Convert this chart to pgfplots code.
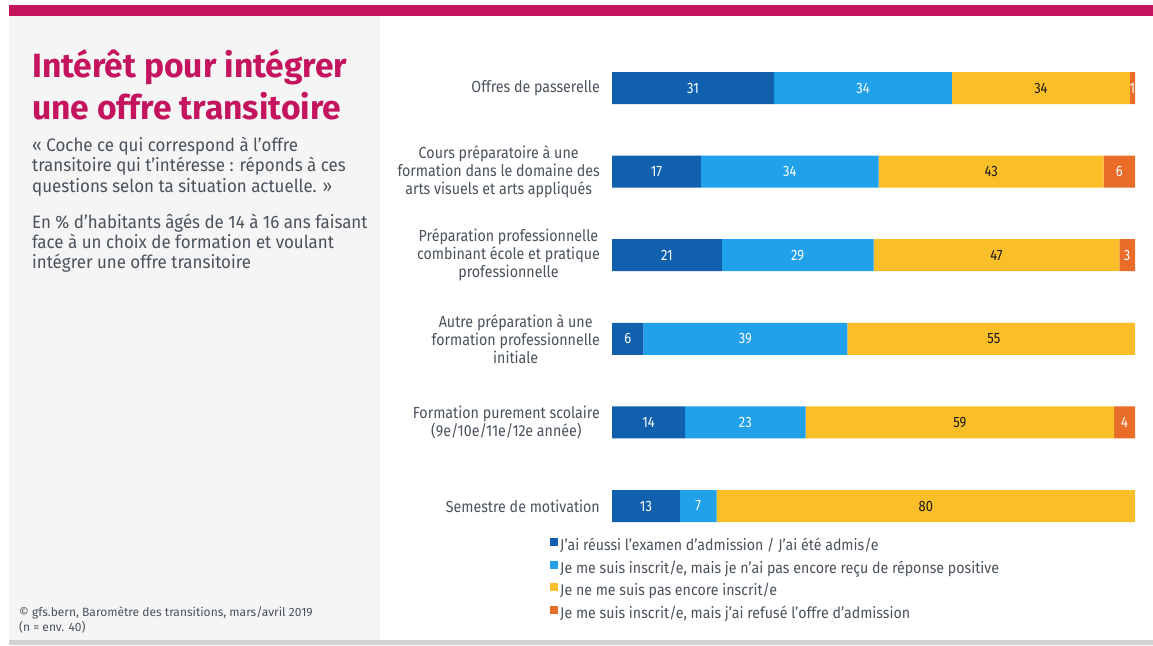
\documentclass[border=0pt]{standalone}
\usepackage{fontspec}
\setmainfont{Fira Sans}
\newfontfamily\condfont[FakeStretch=0.86]{Fira Sans}
\newfontfamily\bodyfont[FakeStretch=0.94]{Fira Sans}
\newfontfamily\catfont[FakeStretch=0.89]{Fira Sans}
\newfontfamily\legfont[FakeStretch=0.915]{Fira Sans}
\usepackage{pgfplots}
\pgfplotsset{compat=1.18}
\definecolor{dblue}{HTML}{1060AE}
\definecolor{lblue}{HTML}{21A1EA}
\definecolor{yel}{HTML}{FABE28}
\definecolor{ora}{HTML}{E96C28}
\definecolor{mag}{HTML}{C4145E}
\definecolor{txt}{HTML}{4A525C}
\definecolor{panel}{HTML}{F5F5F5}
\definecolor{strip}{HTML}{D2D3D3}
\definecolor{dark}{HTML}{1A1A1A}
\begin{document}
\begin{tikzpicture}[x=1pt,y=1pt]
\fill[white] (0,0) rectangle (1153,-645);
\fill[panel] (9,-16) rectangle (380,-640);
\fill[mag] (9,-5) rectangle (1153,-16);
\fill[strip] (9,-640) rectangle (1153,-645);
\begin{scope}[every node/.style={anchor=base west, inner sep=0pt}]
\node[text=mag, font=\fontsize{33.6}{40}\selectfont\bfseries] at (32,-77) {Intérêt pour intégrer};
\node[text=mag, font=\fontsize{33.6}{40}\selectfont\bfseries] at (32,-119) {une offre transitoire};
\node[text=txt, font=\bodyfont\fontsize{18}{20}\selectfont] at (32,-151) {« Coche ce qui correspond à l’offre};
\node[text=txt, font=\bodyfont\fontsize{18}{20}\selectfont] at (32,-171) {transitoire qui t’intéresse : réponds à ces};
\node[text=txt, font=\bodyfont\fontsize{18}{20}\selectfont] at (32,-192) {questions selon ta situation actuelle. »};
\node[text=txt, font=\bodyfont\fontsize{18}{20}\selectfont] at (32,-228) {En \% d’habitants âgés de 14 à 16 ans faisant};
\node[text=txt, font=\bodyfont\fontsize{18}{20}\selectfont] at (32,-248) {face à un choix de formation et voulant};
\node[text=txt, font=\bodyfont\fontsize{18}{20}\selectfont] at (32,-268) {intégrer une offre transitoire};
\node[text=txt, font=\fontsize{12}{14}\selectfont] at (19,-616) {© gfs.bern, Baromètre des transitions, mars/avril 2019};
\node[text=txt, font=\fontsize{12}{14}\selectfont] at (19,-631) {(n = env. 40)};
\end{scope}
\begin{axis}[
  at={(612pt,-547.8pt)}, anchor=south west,
  scale only axis, width=523pt, height=501.6pt,
  xmin=0, xmax=100, ymin=-0.5, ymax=5.5,
  xbar stacked, bar width=32pt,
  axis line style={draw=none}, tick style={draw=none},
  major tick length=0pt,
  xtick=\empty, ytick={0,1,2,3,4,5},
  yticklabels={Semestre de motivation,
    {Formation purement scolaire\\(9e/10e/11e/12e année)},
    {Autre préparation à une\\formation professionnelle\\initiale},
    {Préparation professionnelle\\combinant école et pratique\\professionnelle},
    {Cours préparatoire à une\\formation dans le domaine des\\arts visuels et arts appliqués},
    Offres de passerelle},
  yticklabel style={font=\catfont\fontsize{16}{18}\selectfont, text=txt, align=center, inner sep=0pt, xshift=-12pt},
  legend style={at={(axis description cs:-0.1185,0.024)}, anchor=north west, draw=none, fill=none,
    font=\legfont\fontsize{15.5}{17}\selectfont, text=txt, inner sep=0pt, row sep=4.6pt,
    /tikz/every even column/.append style={column sep=6pt}},
  legend cell align=left,
  legend image code/.code={\fill[#1] (0.5pt,-1pt) rectangle (8.5pt,7pt);},
]
\addplot[fill=dblue, draw=none] coordinates {(13,0) (14,1) (6,2) (21,3) (17,4) (31,5)};
\addplot[fill=lblue, draw=none] coordinates {(7,0) (23,1) (39,2) (29,3) (34,4) (34,5)};
\addplot[fill=yel, draw=none] coordinates {(80,0) (59,1) (55,2) (47,3) (43,4) (34,5)};
\addplot[fill=ora, draw=none] coordinates {(0,0) (4,1) (0,2) (3,3) (6,4) (1,5)};
\legend{J’ai réussi l’examen d’admission / J’ai été admis/e,
  Je me suis inscrit/e{,} mais je n’ai pas encore reçu de réponse positive,
  Je ne me suis pas encore inscrit/e,
  Je me suis inscrit/e{,} mais j’ai refusé l’offre d’admission}
\end{axis}
\begin{axis}[
  at={(612pt,-547.8pt)}, anchor=south west,
  scale only axis, width=523pt, height=501.6pt,
  xmin=0, xmax=100, ymin=-0.5, ymax=5.5,
  hide axis, clip=false,
  nodes near coords, point meta=explicit symbolic,
  nodes near coords style={anchor=center, font=\condfont\fontsize{15}{16}\selectfont},
]
\addplot[draw=none, nodes near coords style={text=white}] coordinates {
  (6.5,0)[13] (7,1)[14] (3,2)[6] (10.5,3)[21] (8.5,4)[17] (15.5,5)[31]
  (16.5,0)[7] (25.5,1)[23] (25.5,2)[39] (35.5,3)[29] (34,4)[34] (48,5)[34]
  (98,1)[4] (98.5,3)[3] (97,4)[6] (99.5,5)[1]};
\addplot[draw=none, nodes near coords style={text=dark}] coordinates {
  (60,0)[80] (66.5,1)[59] (73,2)[55] (73.5,3)[47] (72.5,4)[43] (82,5)[34]};
\end{axis}
\end{tikzpicture}
\end{document}
